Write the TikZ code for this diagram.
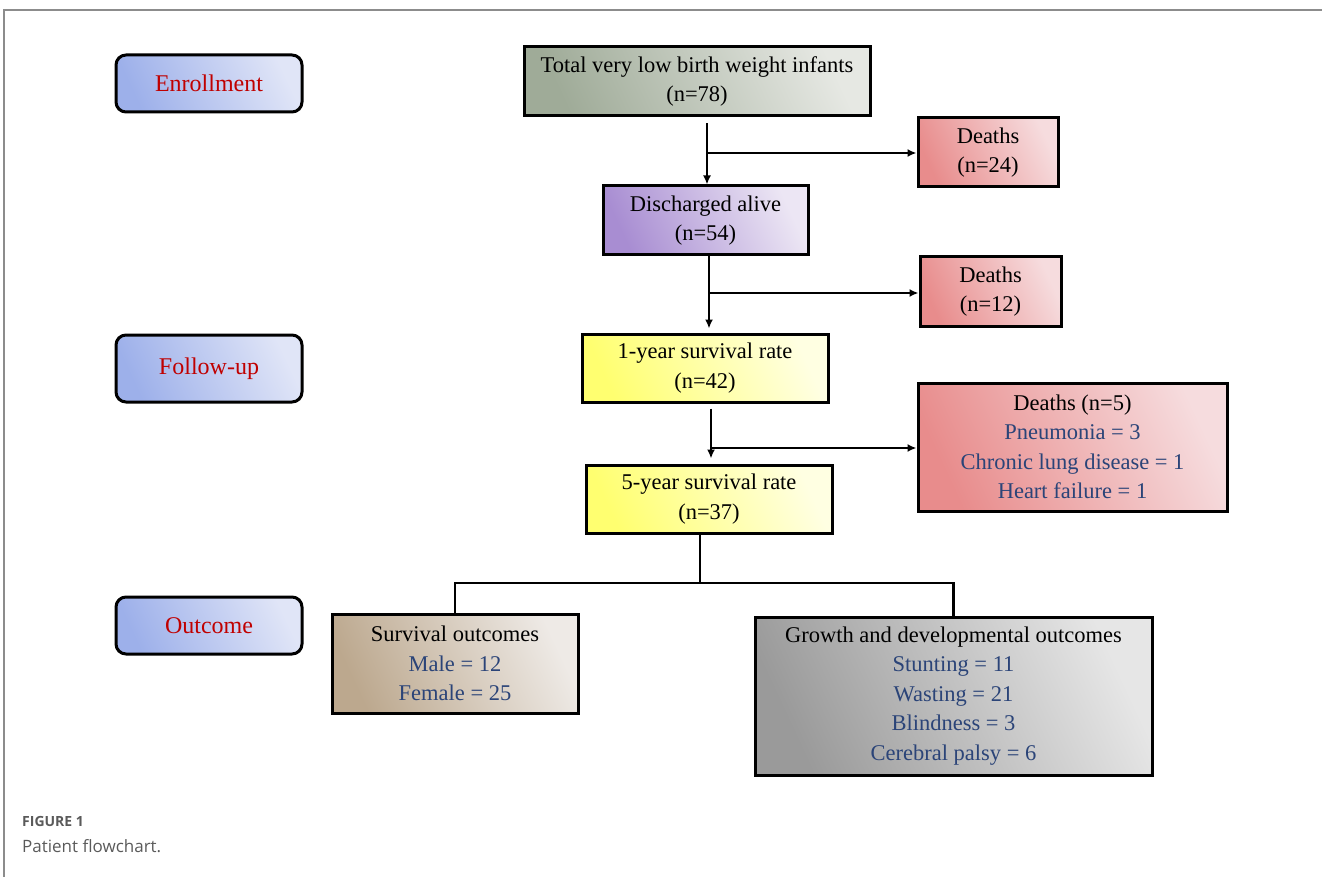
\documentclass[tikz,border=0pt]{standalone}
\usepackage{fontspec}
\setmainfont{Liberation Serif}
\newfontfamily\capfont{Open Sans}
\usetikzlibrary{arrows.meta,calc}
\definecolor{lblred}{HTML}{C00000}
\definecolor{valblue}{HTML}{2B4478}
\definecolor{framegray}{HTML}{8C8C8C}
\definecolor{capgray}{HTML}{5A5A5A}
\definecolor{phaseL}{HTML}{9DB0EA}
\definecolor{phaseR}{HTML}{E0E5F7}
\definecolor{totL}{HTML}{9FAB98}
\definecolor{totR}{HTML}{E6E8E3}
\definecolor{disL}{HTML}{A88DD2}
\definecolor{disR}{HTML}{ECE6F4}
\definecolor{deadL}{HTML}{E88C8C}
\definecolor{deadR}{HTML}{F6DCDE}
\definecolor{yelL}{HTML}{FFFF70}
\definecolor{yelR}{HTML}{FFFFE2}
\definecolor{survL}{HTML}{BCA88E}
\definecolor{survR}{HTML}{EEEAE6}
\definecolor{growL}{HTML}{9A9A9A}
\definecolor{growR}{HTML}{E6E6E6}
\tikzset{
  box/.style={draw=black,line width=3pt,align=center,inner sep=0pt,
    font=\fontsize{22.5}{29.5}\selectfont},
  grad/.style 2 args={left color=#1,right color=#2,shading angle=115},
  phase/.style={box,rounded corners=10pt,grad={phaseL}{phaseR},
    text=lblred,minimum width=186pt,font=\fontsize{24}{29.5}\selectfont},
  dead/.style={box,grad={deadL}{deadR}},
  yel/.style={box,grad={yelL}{yelR}},
  arr/.style={line width=2.4pt,-{Latex[length=9pt,width=8pt]}},
  ln/.style={line width=2.4pt},
}
\newcommand{\vb}[1]{\textcolor{valblue}{#1}}
\begin{document}
\begin{tikzpicture}[x=1pt,y=-1pt]
\useasboundingbox (0,0) rectangle (1322,877);
% frame
\draw[framegray,line width=1.5pt] (1322,10) -- (4,10) -- (4,877);
% phases
\node[phase,minimum height=57pt] (enr) at (209,83.5) {Enrollment};
\node[phase,minimum height=67pt] (fol) at (209,368.5) {Follow-up};
\node[phase,minimum height=57pt] (outc) at (209,625.5) {Outcome};
% main boxes
\node[box,minimum width=346pt,minimum height=69pt,grad={totL}{totR}] (total) at (697,81.5) {Total very low birth weight infants\\(n=78)};
\node[dead,minimum width=140pt,minimum height=69pt] (d24) at (988,152.5) {Deaths\\(n=24)};
\node[box,minimum width=205pt,minimum height=69pt,grad={disL}{disR}] (dis) at (705.5,220.5) {Discharged alive\\(n=54)};
\node[dead,minimum width=141pt,minimum height=69pt] (d12) at (990.5,291.5) {Deaths\\(n=12)};
\node[yel,minimum width=246pt,minimum height=68pt] (y1) at (705,368) {1-year survival rate\\(n=42)};
\node[dead,minimum width=309pt,minimum height=128pt] (d5) at (1072.5,447) {Deaths (n=5)\\\vb{Pneumonia = 3}\\\vb{Chronic lung disease = 1}\\\vb{Heart failure = 1}};
\node[yel,minimum width=246pt,minimum height=68pt] (y5) at (709,499) {5-year survival rate\\(n=37)};
\node[box,minimum width=246pt,minimum height=99pt,grad={survL}{survR}] (surv) at (455,663.5) {Survival outcomes\\\vb{Male = 12}\\\vb{Female = 25}};
\node[box,minimum width=397pt,minimum height=158pt,grad={growL}{growR}] (grow) at (953.5,696) {Growth and developmental outcomes\\\vb{Stunting = 11}\\\vb{Wasting = 21}\\\vb{Blindness = 3}\\\vb{Cerebral palsy = 6}};
% connectors
\coordinate (j1) at (707,153);
\coordinate (j2) at (709,293);
\coordinate (j3) at (711,448);
\coordinate (t) at (700,583);
\draw[ln] ($(total.south -| j1)+(0,6)$) -- (j1);
\draw[arr] (j1) -- (dis.north -| j1);
\draw[arr] (j1) -- (d24.west |- j1);
\draw[ln] (dis.south -| j2) -- (j2);
\draw[arr] (j2) -- ($(y1.north -| j2)+(0,-4)$);
\draw[arr] (j2) -- (d12.west |- j2);
\draw[ln] ($(y1.south -| j3)+(0,5)$) -- (j3);
\draw[arr] (j3) -- ($(y5.north -| j3)+(0,-5)$);
\draw[arr] (j3) -- (d5.west |- j3);
\draw[ln] (y5.south -| t) -- (t);
\draw[ln] (t) -| (surv.north);
\draw[ln] (t) -| (grow.north);
% caption
\node[anchor=west,inner sep=0pt,text=capgray,font=\capfont\bfseries\fontsize{14}{16}\selectfont] (figl) at (22,821) {FIGURE 1};
\node[anchor=west,inner sep=0pt,text=capgray,font=\capfont\fontsize{17}{20}\selectfont] (capt) at (22,846) {Patient flowchart.};
\end{tikzpicture}
\end{document}
